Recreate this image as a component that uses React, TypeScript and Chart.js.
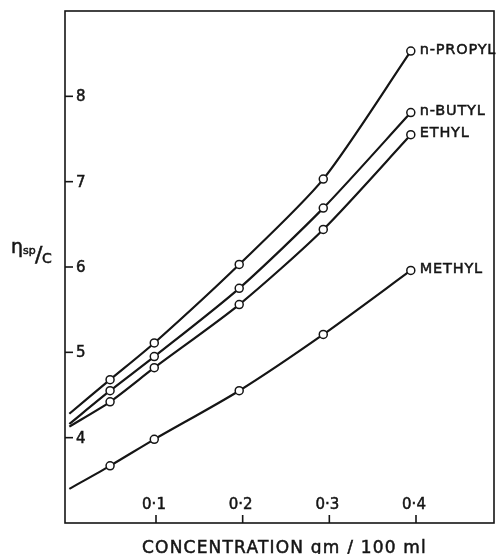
import React, { useEffect, useRef } from "react";
import { Chart, registerables } from "chart.js";

Chart.register(...registerables);

const concentration = [0, 0.047, 0.098, 0.196, 0.293, 0.394];
const seriesNames = ["n-PROPYL", "n-BUTYL", "ETHYL", "METHYL"];
const propyl = [4.28, 4.68, 5.11, 6.03, 7.03, 8.53];
const butyl = [4.16, 4.55, 4.95, 5.75, 6.69, 7.81];
const ethyl = [4.13, 4.42, 4.82, 5.56, 6.44, 7.55];
const methyl = [3.4, 3.67, 3.98, 4.55, 5.21, 5.96];
const xTicks = [0.1, 0.2, 0.3, 0.4];
const xTickLabels = ["0·1", "0·2", "0·3", "0·4"];
const yTicks = [4, 5, 6, 7, 8];
const yTickLabels = ["4", "5", "6", "7", "8"];
const xTitle = "CONCENTRATION gm / 100 ml";

const FONT = '"DejaVu Sans", sans-serif';
const INK = "#151515";

function inkText(ctx: any, s: string, x: number, y: number) {
  ctx.fillText(s, x, y);
  ctx.strokeText(s, x, y);
}

const decorPlugin = {
  id: "decor",
  beforeDatasetsDraw(chart: any) {
    const { ctx, chartArea: a, scales } = chart;
    const xs = scales.x;
    const ys = scales.y;
    ctx.save();
    ctx.strokeStyle = INK;
    ctx.lineWidth = 1.6;
    ctx.strokeRect(a.left, a.top, a.right - a.left, a.bottom - a.top);
    ctx.fillStyle = INK;
    ctx.font = `15px ${FONT}`;
    yTicks.forEach((v) => {
      const y = ys.getPixelForValue(v);
      ctx.beginPath();
      ctx.moveTo(a.left, y);
      ctx.lineTo(a.left + 8, y);
      ctx.stroke();
    });
    xTicks.forEach((v) => {
      const x = xs.getPixelForValue(v);
      ctx.beginPath();
      ctx.moveTo(x, a.bottom);
      ctx.lineTo(x, a.bottom - 8);
      ctx.stroke();
    });
    ctx.lineWidth = 0.5;
    ctx.textAlign = "left";
    ctx.textBaseline = "middle";
    yTicks.forEach((v, i) => {
      const y = ys.getPixelForValue(v);
      inkText(ctx, yTickLabels[i], a.left + 11, y + 1);
    });
    ctx.textAlign = "center";
    ctx.textBaseline = "alphabetic";
    xTicks.forEach((v, i) => {
      const x = xs.getPixelForValue(v);
      inkText(ctx, xTickLabels[i], x - 2, a.bottom - 14);
    });
    ctx.font = `17px ${FONT}`;
    (ctx as any).letterSpacing = "1.2px";
    ctx.textAlign = "left";
    inkText(ctx, xTitle, 142, 553);
    (ctx as any).letterSpacing = "0px";
    ctx.font = `19px ${FONT}`;
    inkText(ctx, "η", 11, 253);
    ctx.font = `11px ${FONT}`;
    inkText(ctx, "sp", 23, 254);
    ctx.font = `22px ${FONT}`;
    inkText(ctx, "/", 35, 262);
    ctx.font = `14px ${FONT}`;
    inkText(ctx, "C", 42, 263);
    ctx.restore();
  },
  afterDatasetsDraw(chart: any) {
    const { ctx } = chart;
    ctx.save();
    ctx.fillStyle = INK;
    ctx.strokeStyle = INK;
    ctx.lineWidth = 0.5;
    ctx.font = `14.5px ${FONT}`;
    (ctx as any).letterSpacing = "0.8px";
    ctx.textAlign = "left";
    ctx.textBaseline = "middle";
    chart.data.datasets.forEach((ds: any, i: number) => {
      const meta = chart.getDatasetMeta(i);
      const last = meta.data[meta.data.length - 1];
      inkText(ctx, seriesNames[i], last.x + 9, last.y - 1);
    });
    ctx.restore();
  },
};

export default function App() {
  const ref = useRef<HTMLCanvasElement | null>(null);
  useEffect(() => {
    if (!ref.current) return;
    const mk = (vals: number[], label: string) => ({
      label,
      data: concentration.map((c, i) => ({ x: c, y: vals[i] })),
      borderColor: INK,
      borderWidth: 2.2,
      backgroundColor: "#ffffff",
      pointBackgroundColor: "#ffffff",
      pointBorderColor: INK,
      pointBorderWidth: 1.5,
      pointRadius: concentration.map((c) => (c === 0 ? 0 : 4)),
      tension: 0.25,
      fill: false,
    });
    const chart = new Chart(ref.current, {
      type: "line",
      data: {
        datasets: [
          mk(propyl, seriesNames[0]),
          mk(butyl, seriesNames[1]),
          mk(ethyl, seriesNames[2]),
          mk(methyl, seriesNames[3]),
        ],
      },
      options: {
        responsive: false,
        animation: false,
        events: [],
        layout: { autoPadding: false, padding: { left: 65, top: 11, right: 2, bottom: 31 } },
        plugins: { legend: { display: false }, tooltip: { enabled: false } },
        scales: {
          x: { type: "linear", min: -0.005, max: 0.49, display: false },
          y: { type: "linear", min: 3, max: 9, display: false },
        },
      },
      plugins: [decorPlugin],
    });
    return () => chart.destroy();
  }, []);
  return (
    <div style={{ position: "fixed", left: 0, top: 0, width: 496, height: 554, background: "#fff" }}>
      <canvas ref={ref} width={496} height={554} />
    </div>
  );
}
